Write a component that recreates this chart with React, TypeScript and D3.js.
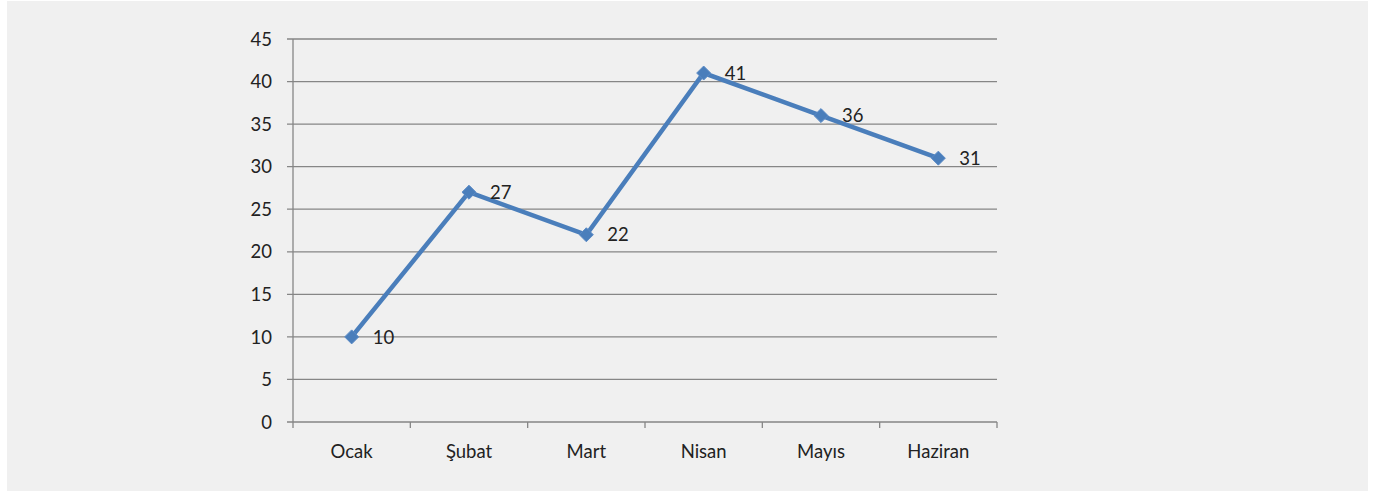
import React from "react";
import * as d3 from "d3";

const width = 1381;
const height = 491;
const margin = { top: 39, right: 384, bottom: 69, left: 293 };

const months = ["Ocak", "Şubat", "Mart", "Nisan", "Mayıs", "Haziran"];
const values = [10, 27, 22, 41, 36, 31];
const yTicks = [0, 5, 10, 15, 20, 25, 30, 35, 40, 45];

const font = "Lato, 'Open Sans', sans-serif";
const gridColor = "#868686";
const lineColor = "#4a7ebb";

const App = () => {
  const x = d3
    .scaleBand()
    .domain(months)
    .range([margin.left, width - margin.right]);

  const y = d3
    .scaleLinear()
    .domain([0, 45])
    .range([height - margin.bottom, margin.top]);

  const line = d3
    .line<number>()
    .x((d, i) => x(months[i])! + x.bandwidth() / 2)
    .y((d) => y(d));

  const diamond = d3.symbol().type(d3.symbolDiamond2).size(125)();

  // tick positions on category axis sit at band edges
  const catEdges = [...months.map((m) => x(m)!), width - margin.right];

  return (
    <svg
      width={width}
      height={height}
      style={{ position: "absolute", left: 0, top: 0 }}
    >
      <rect x={7} y={1} width={1361} height={490} fill="#f0f0f0" />

      {yTicks.map((t) => (
        <g key={t}>
          <line
            x1={margin.left - 6}
            x2={width - margin.right}
            y1={y(t)}
            y2={y(t)}
            stroke={gridColor}
            strokeWidth={1.3}
          />
          <text
            x={272}
            y={y(t)}
            dy="0.36em"
            textAnchor="end"
            fontFamily={font}
            fontSize={18.5}
            fill="#222"
          >
            {t}
          </text>
        </g>
      ))}

      {/* axes */}
      <line
        x1={margin.left}
        x2={margin.left}
        y1={y(45)}
        y2={y(0)}
        stroke={gridColor}
        strokeWidth={1.3}
      />
      {catEdges.map((cx, i) => (
        <line
          key={i}
          x1={cx}
          x2={cx}
          y1={y(0)}
          y2={y(0) + 6}
          stroke={gridColor}
          strokeWidth={1.3}
        />
      ))}
      {months.map((m) => (
        <text
          key={m}
          x={x(m)! + x.bandwidth() / 2}
          y={y(0) + 29}
          dy="0.36em"
          textAnchor="middle"
          fontFamily={font}
          fontSize={18.5}
          fill="#222"
        >
          {m}
        </text>
      ))}

      <path d={line(values)!} fill="none" stroke={lineColor} strokeWidth={4.5} />

      {values.map((v, i) => {
        const cx = x(months[i])! + x.bandwidth() / 2;
        return (
          <g key={i}>
            <path
              d={diamond}
              transform={`translate(${cx},${y(v)})`}
              fill="#4a7ebb"
              stroke="#5b8bc6"
              strokeWidth={1}
            />
            <text
              x={cx + 21}
              y={y(v)}
              dy="0.36em"
              fontFamily={font}
              fontSize={18.5}
              fill="#222"
            >
              {v}
            </text>
          </g>
        );
      })}
    </svg>
  );
};

export default App;
